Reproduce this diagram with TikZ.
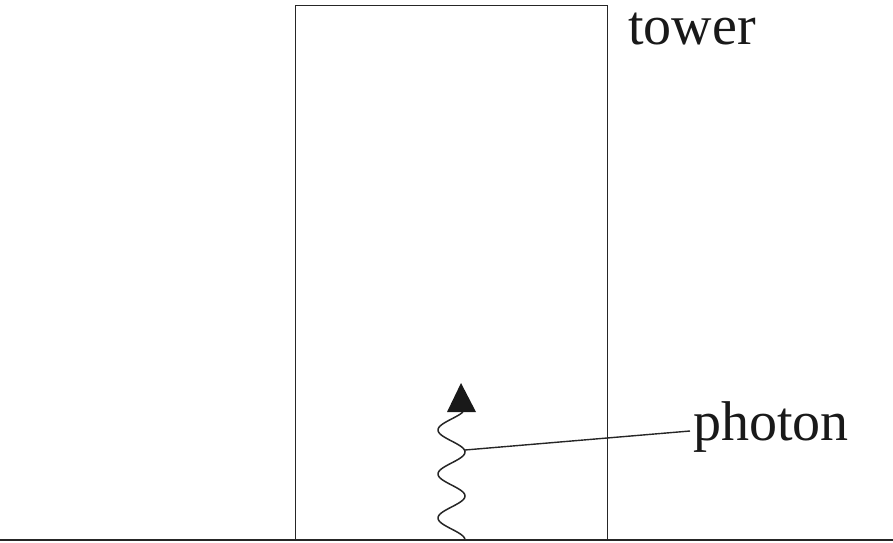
\documentclass[tikz,border=0pt]{standalone}
\usepackage{fontspec}
\setmainfont{Liberation Serif}
\begin{document}
\begin{tikzpicture}[x=1pt,y=1pt,
  thinline/.style={line width=1.4pt,draw=black!85},
  label/.style={font=\fontsize{56}{60}\selectfont,inner sep=0pt,anchor=base west,text=black!90}]
\useasboundingbox (0,0) rectangle (893,542);
% ground
\coordinate (g1) at (0,2);
\coordinate (g2) at (893,2);
\draw[thinline] (g1) -- (g2);
% tower
\node[thinline,draw,rectangle,minimum width=312pt,minimum height=534pt,inner sep=0pt,anchor=south west] (tower) at (295,2) {};
\node[label] (towerlbl) at (628,497) {tower};
% photon wave
\draw[thinline,line width=1.5pt] plot[domain=0:128,samples=120,smooth] ({451.5+13.5*cos(8.1818*\x)},{2+\x});
\fill[black!90] (447,130) -- (476,130) -- (461,159) -- cycle;
\coordinate (wp) at (465,92);
\node[label] (photon) at (693,102) {photon};
\coordinate (pl) at (690,111);
\draw[thinline] (wp) -- (pl);
\end{tikzpicture}
\end{document}
